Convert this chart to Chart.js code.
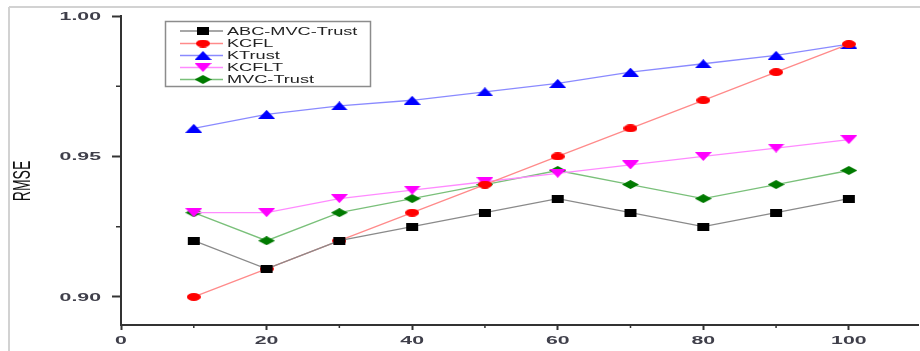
<!DOCTYPE html>
<html>
<head>
<meta charset="utf-8">
<script src="https://cdn.jsdelivr.net/npm/chart.js@4/dist/chart.umd.min.js"></script>
<style>
html,body{margin:0;padding:0;background:#fff;}
#wrap{width:920px;height:351px;position:relative;}
</style>
</head>
<body>
<div id="wrap"><canvas id="c" width="920" height="351"></canvas></div>
<script>
// ---- data ----
const xValues = [10, 20, 30, 40, 50, 60, 70, 80, 90, 100];
const abcMvcTrust = [0.920, 0.910, 0.920, 0.925, 0.930, 0.935, 0.930, 0.925, 0.930, 0.935];
const kcfl        = [0.900, 0.910, 0.920, 0.930, 0.940, 0.950, 0.960, 0.970, 0.980, 0.990];
const ktrust      = [0.960, 0.965, 0.968, 0.970, 0.973, 0.976, 0.980, 0.983, 0.986, 0.990];
const kcflt       = [0.930, 0.930, 0.935, 0.938, 0.941, 0.944, 0.947, 0.950, 0.953, 0.956];
const mvcTrust    = [0.930, 0.920, 0.930, 0.935, 0.940, 0.945, 0.940, 0.935, 0.940, 0.945];
const seriesNames = ['ABC-MVC-Trust', 'KCFL', 'KTrust', 'KCFLT', 'MVC-Trust'];
const xTickValues = [0, 20, 40, 60, 80, 100];
const xTickLabels = ['0', '20', '40', '60', '80', '100'];
const xMinorTicks = [10, 30, 50, 70, 90];
const yTickValues = [0.90, 0.95, 1.00];
const yTickLabels = ['0.90', '0.95', '1.00'];
const yMinorTicks = [0.925, 0.975];
const yTitle = 'RMSE';

// ---- marker images (horizontally stretched like the reference) ----
function marker(shape, color, w, h) {
  const c = document.createElement('canvas');
  c.width = w; c.height = h;
  const g = c.getContext('2d');
  g.fillStyle = color;
  g.beginPath();
  if (shape === 'square') { g.rect(1, 0, w - 2, h); }
  else if (shape === 'circle') { g.ellipse(w / 2, h / 2, w / 2, h / 2, 0, 0, Math.PI * 2); }
  else if (shape === 'up') { g.moveTo(w / 2, 0); g.lineTo(w, h); g.lineTo(0, h); g.closePath(); }
  else if (shape === 'down') { g.moveTo(0, 0); g.lineTo(w, 0); g.lineTo(w / 2, h); g.closePath(); }
  else if (shape === 'diamond') { g.moveTo(w / 2, 0); g.lineTo(w, h / 2); g.lineTo(w / 2, h); g.lineTo(0, h / 2); g.closePath(); }
  g.fill();
  return c;
}
const markers = [
  marker('square', '#000000', 14, 8),
  marker('circle', '#ff0000', 14, 8),
  marker('up', '#0000ff', 17, 9),
  marker('down', '#ff00ff', 17, 9),
  marker('diamond', '#007a00', 17, 9)
];
const lineColors = ['#8a8a8a', '#ff8a8a', '#8a8aff', '#ff8aff', '#7ac07a'];
const seriesData = [abcMvcTrust, kcfl, ktrust, kcflt, mvcTrust];

const datasets = seriesNames.map((name, i) => ({
  label: name,
  data: xValues.map((x, j) => ({ x: x, y: seriesData[i][j] })),
  borderColor: lineColors[i],
  backgroundColor: lineColors[i],
  borderWidth: 1.3,
  pointStyle: markers[i],
  pointRadius: 5,
  tension: 0,
  clip: false
}));

const tickFontCss = 'bold 11.5px "Liberation Sans", Arial, sans-serif';
const tickColor = '#3f3f4a';
const textStretch = 1.85;

function stretchedText(ctx, text, x, y, align, stretch) {
  ctx.save();
  ctx.translate(x, y);
  ctx.scale(stretch, 1);
  ctx.textAlign = align;
  ctx.textBaseline = 'middle';
  ctx.fillText(text, 0, 0);
  ctx.restore();
}

const decor = {
  id: 'decor',
  beforeDraw(chart) {
    const ctx = chart.ctx;
    ctx.save();
    ctx.fillStyle = '#ffffff';
    ctx.fillRect(0, 0, chart.width, chart.height);
    ctx.strokeStyle = '#d2d2d2';
    ctx.lineWidth = 2;
    ctx.beginPath();
    ctx.moveTo(9, 7); ctx.lineTo(chart.width, 7);
    ctx.moveTo(9, 7); ctx.lineTo(9, chart.height);
    ctx.stroke();
    ctx.restore();
  },
  beforeDatasetsDraw(chart) {
    const ctx = chart.ctx;
    const xs = chart.scales.x, ys = chart.scales.y;
    ctx.save();
    // minor ticks
    ctx.strokeStyle = '#333';
    ctx.lineWidth = 1.5;
    ctx.beginPath();
    xMinorTicks.forEach(v => {
      const px = xs.getPixelForValue(v);
      ctx.moveTo(px, xs.top); ctx.lineTo(px, xs.top + 3);
    });
    yMinorTicks.forEach(v => {
      const py = ys.getPixelForValue(v);
      ctx.moveTo(ys.right - 5, py); ctx.lineTo(ys.right, py);
    });
    ctx.stroke();
    // tick labels, placed by the scales
    ctx.font = tickFontCss;
    ctx.fillStyle = tickColor;
    xs.ticks.forEach((t, i) => {
      stretchedText(ctx, xTickLabels[i], xs.getPixelForValue(t.value), xs.top + 16, 'center', textStretch);
    });
    ys.ticks.forEach((t, i) => {
      stretchedText(ctx, yTickLabels[i], ys.right - 20, ys.getPixelForValue(t.value) + 0.5, 'right', textStretch);
    });
    // y title
    ctx.translate(23, 181);
    ctx.rotate(-Math.PI / 2);
    ctx.scale(1, 1.7);
    ctx.font = '14px "Liberation Sans", Arial, sans-serif';
    ctx.fillStyle = '#111';
    ctx.textAlign = 'center';
    ctx.textBaseline = 'middle';
    ctx.fillText(yTitle, 0, 0);
    ctx.restore();
  },
  afterDraw(chart) {
    const ctx = chart.ctx;
    ctx.save();
    ctx.strokeStyle = '#8c8c8c';
    ctx.lineWidth = 1.5;
    ctx.strokeRect(165.5, 21.5, 205, 65);
    const rows = [31, 43.5, 55.5, 67.5, 79.5];
    chart.data.datasets.forEach((ds, i) => {
      const y = rows[i];
      ctx.strokeStyle = ds.borderColor;
      ctx.lineWidth = 1.3;
      ctx.beginPath();
      ctx.moveTo(180, y); ctx.lineTo(223, y);
      ctx.stroke();
      const img = ds.pointStyle;
      ctx.drawImage(img, 203 - img.width / 2, y - img.height / 2);
      ctx.font = '11px "Liberation Sans", Arial, sans-serif';
      ctx.fillStyle = '#222';
      stretchedText(ctx, ds.label, 227, y + 0.5, 'left', 1.65);
    });
    ctx.restore();
  }
};

new Chart(document.getElementById('c'), {
  type: 'line',
  data: { datasets: datasets },
  plugins: [decor],
  options: {
    responsive: false,
    animation: false,
    events: [],
    layout: { autoPadding: false, padding: { top: 16, right: 2, bottom: 0, left: 0 } },
    plugins: { legend: { display: false }, tooltip: { enabled: false }, title: { display: false } },
    scales: {
      x: {
        type: 'linear',
        min: 0,
        max: 109.5,
        afterFit(s) { s.height = 26; s.paddingLeft = 0; s.paddingRight = 0; },
        afterBuildTicks(s) { s.ticks = xTickValues.map(v => ({ value: v })); },
        grid: { display: true, drawOnChartArea: false, drawTicks: true, tickLength: 5, tickColor: '#333', tickWidth: 2 },
        border: { display: true, color: '#333', width: 2 },
        ticks: { display: false, autoSkip: false, callback: (v, i) => xTickLabels[i] }
      },
      y: {
        type: 'linear',
        min: 0.89,
        max: 1.00,
        afterFit(s) { s.width = 121; s.paddingTop = 0; s.paddingBottom = 0; },
        afterBuildTicks(s) { s.ticks = yTickValues.map(v => ({ value: v })); },
        grid: { display: true, drawOnChartArea: false, drawTicks: true, tickLength: 9, tickColor: '#333', tickWidth: 2 },
        border: { display: true, color: '#333', width: 2 },
        ticks: { display: false, autoSkip: false, callback: (v, i) => yTickLabels[i] }
      }
    }
  }
});
</script>
</body>
</html>
